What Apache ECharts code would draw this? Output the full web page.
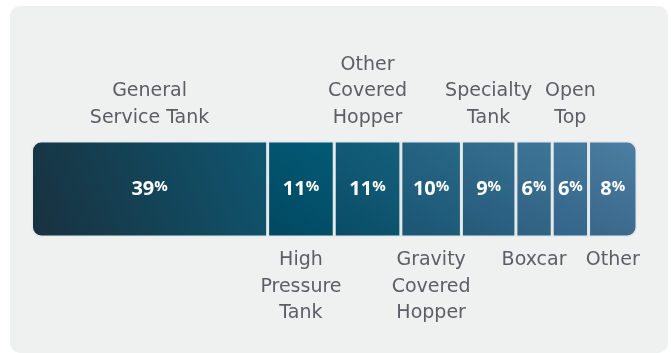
<!DOCTYPE html>
<html>
<head>
<meta charset="utf-8">
<script src="https://cdn.jsdelivr.net/npm/echarts@6/dist/echarts.min.js"></script>
<style>
  html, body { margin: 0; padding: 0; background: #ffffff; }
  #chart { width: 671px; height: 353px; }
</style>
</head>
<body>
<div id="chart"></div>
<script>
// Railcar fleet composition, by car type (share of fleet, %)
const categories = [
  'General\nService Tank',
  'High\nPressure\nTank',
  'Other\nCovered\nHopper',
  'Gravity\nCovered\nHopper',
  'Specialty\nTank',
  'Boxcar',
  'Open\nTop',
  'Other'
];
const shares = [39, 11, 11, 10, 9, 6, 6, 8];

// Segment fills: darker bottom-left to lighter top-right
const palette = [
  ['#18313e', '#0f5670'],
  ['#024860', '#035a76'],
  ['#094c66', '#15607c'],
  ['#1a5573', '#2a6888'],
  ['#25597a', '#35708f'],
  ['#2f6080', '#3e7697'],
  ['#33648a', '#44799d'],
  ['#386688', '#4c7fa4']
];

const chart = echarts.init(document.getElementById('chart'), null, { renderer: 'canvas' });
const last = shares.length - 1;

const segmentSeries = shares.map((v, i) => ({
  type: 'bar',
  name: categories[i],
  stack: 'share',
  data: [v],
  barWidth: 96,
  barGap: '-100%',
  silent: true,
  itemStyle: {
    color: new echarts.graphic.LinearGradient(0, 1, 1, 0, [
      { offset: 0, color: palette[i][0] },
      { offset: 1, color: palette[i][1] }
    ]),
    borderColor: '#e4e9ec',
    borderWidth: 1.5,
    borderRadius: i === 0 ? [9, 0, 0, 9] : (i === last ? [0, 9, 9, 0] : 0)
  },
  label: {
    show: true,
    position: 'inside',
    formatter: '{n|' + v + '}{p|%}',
    rich: {
      n: { fontFamily: 'Open Sans', fontWeight: 'bold', fontSize: 20, color: '#ffffff', lineHeight: 24 },
      p: { fontFamily: 'Open Sans', fontWeight: 'bold', fontSize: 15, color: '#ffffff', lineHeight: 24, padding: [0, 0, 4, 0] }
    }
  }
}));

// Transparent twin stack carrying the car-type names, alternating above / below
const nameSeries = shares.map((v, i) => ({
  type: 'bar',
  stack: 'names',
  data: [v],
  barWidth: 96,
  barGap: '-100%',
  silent: true,
  itemStyle: { color: 'rgba(0,0,0,0)' },
  label: {
    show: true,
    position: i % 2 === 0 ? 'top' : 'bottom',
    distance: 10,
    formatter: categories[i],
    fontFamily: 'DejaVu Sans',
    fontSize: 19,
    lineHeight: 26.5,
    color: '#5a5e65',
    align: 'center'
  }
}));

chart.setOption({
  animation: false,
  backgroundColor: '#ffffff',
  graphic: [{
    type: 'rect',
    z: -10,
    shape: { x: 10, y: 6, width: 658, height: 347, r: 10 },
    style: { fill: '#eff0f0' }
  }],
  grid: { left: 31.5, right: 34, top: 141, bottom: 116 },
  xAxis: { type: 'value', min: 0, max: 100, show: false },
  yAxis: { type: 'category', data: ['Fleet'], show: false },
  series: segmentSeries.concat(nameSeries)
});
</script>
</body>
</html>
